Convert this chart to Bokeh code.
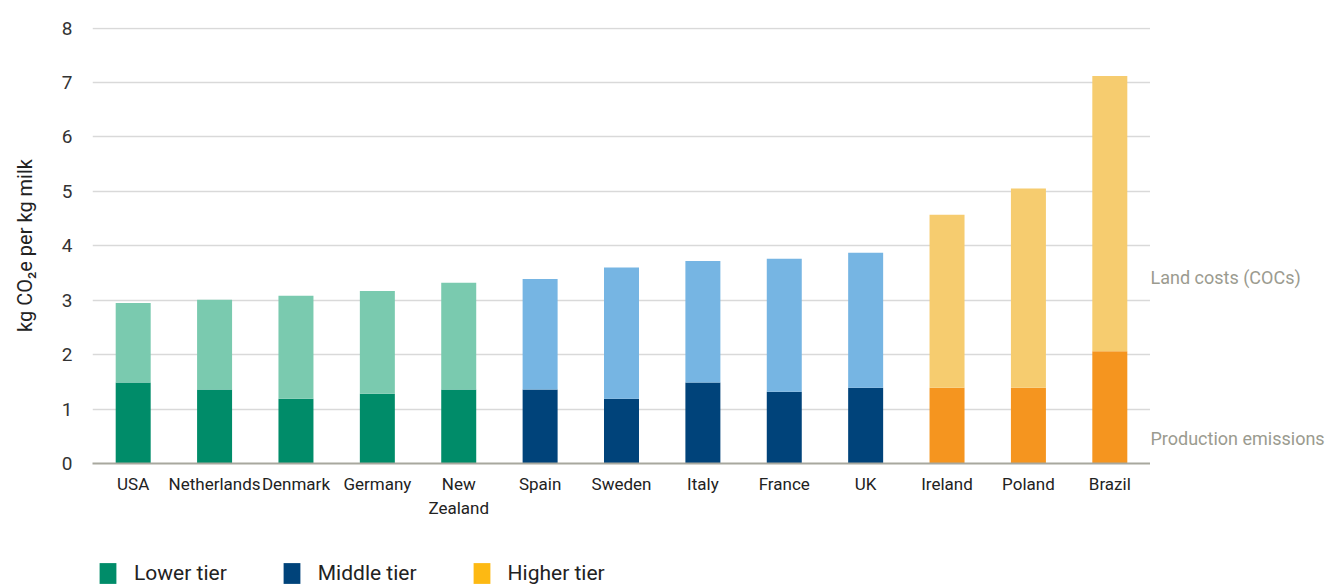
from bokeh.plotting import figure
from bokeh.layouts import column, row
from bokeh.models import ColumnDataSource, FactorRange, Range1d, Legend, LegendItem
from bokeh.core.properties import value
from bokeh.embed import file_html
from bokeh.resources import INLINE

countries = ["USA", "Netherlands", "Denmark", "Germany", "New Zealand", "Spain", "Sweden",
             "Italy", "France", "UK", "Ireland", "Poland", "Brazil"]
tiers = ["Lower", "Lower", "Lower", "Lower", "Lower", "Middle", "Middle",
         "Middle", "Middle", "Middle", "Higher", "Higher", "Higher"]
production = [1.49, 1.36, 1.19, 1.28, 1.36, 1.36, 1.19, 1.49, 1.32, 1.39, 1.39, 1.39, 2.06]
total = [2.95, 3.01, 3.08, 3.17, 3.32, 3.39, 3.60, 3.72, 3.76, 3.87, 4.57, 5.05, 7.12]
y_ticks = [0, 1, 2, 3, 4, 5, 6, 7, 8]
side_labels = ["Land costs (COCs)", "Production emissions"]
side_label_y = [3.41, 0.46]
legend_labels = ["Lower tier", "Middle tier", "Higher tier"]
legend_tiers = ["Lower", "Middle", "Higher"]

dark = {"Lower": "#008C69", "Middle": "#00437A", "Higher": "#F5951F"}
light = {"Lower": "#7ACAAF", "Middle": "#76B5E3", "Higher": "#F6CC6F"}
legend_col = {"Lower": "#008C69", "Middle": "#00437A", "Higher": "#FDB913"}

FONT = "Roboto"
TOP, BOTTOM = 27, 72
MAIN_H = 535

factors = [c.replace(" ", "\n") if c == "New Zealand" else c for c in countries]

src = ColumnDataSource(dict(
    x=factors, prod=production, total=total, zero=[0] * len(countries),
    dark=[dark[t] for t in tiers], light=[light[t] for t in tiers],
))

yr = Range1d(0, 8.01)

p = figure(width=1150, height=MAIN_H, x_range=FactorRange(*factors, range_padding=0),
           y_range=yr, output_backend="svg", toolbar_location=None,
           min_border_left=92, min_border_right=0, min_border_top=TOP, min_border_bottom=BOTTOM)
p.outline_line_color = None

p.vbar(x="x", bottom="zero", top="prod", width=0.43, source=src, fill_color="dark", line_color=None)
p.vbar(x="x", bottom="prod", top="total", width=0.43, source=src, fill_color="light", line_color=None)

p.yaxis.ticker = y_ticks
p.yaxis.axis_line_color = None
p.yaxis.major_tick_line_color = None
p.yaxis.minor_tick_line_color = None
p.yaxis.major_label_text_font = FONT
p.yaxis.major_label_text_font_size = "19px"
p.yaxis.major_label_text_color = "#333333"
p.yaxis.major_label_standoff = 14
p.yaxis.axis_label = "kg CO\u2082e per kg milk"
p.yaxis.axis_label_text_font = FONT
p.yaxis.axis_label_text_font_size = "20px"
p.yaxis.axis_label_text_font_style = "normal"
p.yaxis.axis_label_text_color = "#222222"
p.yaxis.axis_label_standoff = 22

p.xaxis.axis_line_color = "#A8A89E"
p.xaxis.axis_line_width = 2
p.xaxis.major_tick_line_color = None
p.xaxis.minor_tick_line_color = None
p.xaxis.major_label_text_font = FONT
p.xaxis.major_label_text_font_size = "17px"
p.xaxis.major_label_text_color = "#222222"
p.xaxis.major_label_standoff = 4

p.xgrid.grid_line_color = None
p.ygrid.grid_line_color = "#D9D9D9"
p.ygrid.grid_line_width = 1.5

# right-hand labels
side = figure(width=178, height=MAIN_H, x_range=Range1d(0, 1), y_range=yr,
              x_axis_type=None, y_axis_type=None, output_backend="svg", toolbar_location=None,
              min_border_left=0, min_border_right=0, min_border_top=TOP, min_border_bottom=BOTTOM)
side.outline_line_color = None
side.grid.visible = False
side.text(x=[0.0, 0.0], y=side_label_y, text=side_labels, text_font=value(FONT),
          text_font_size="18px", text_color="#9B9B8F", text_baseline="middle", text_align="left")

# legend strip
lf = figure(width=1328, height=51, x_range=Range1d(0, 1), y_range=Range1d(0, 1),
            x_axis_type=None, y_axis_type=None, output_backend="svg", toolbar_location=None,
            min_border=0)
lf.outline_line_color = None
lf.grid.visible = False
items = []
for t, name in zip(legend_tiers, legend_labels):
    r = lf.vbar(x=[0], top=[0], bottom=[0], width=0, fill_color=legend_col[t], line_color=None)
    items.append(LegendItem(label=name, renderers=[r]))
leg = Legend(items=items, orientation="horizontal", location=(97, 0),
             label_text_font=FONT, label_text_font_size="21px", label_text_color="#222222",
             glyph_width=21, glyph_height=26, label_standoff=16, spacing=54,
             border_line_color=None, background_fill_alpha=0, padding=0,
             margin=0, label_height=26)
lf.add_layout(leg)

layout = column(row(p, side, spacing=0), lf, spacing=0)

open("out.html", "w").write(file_html(layout, INLINE))
